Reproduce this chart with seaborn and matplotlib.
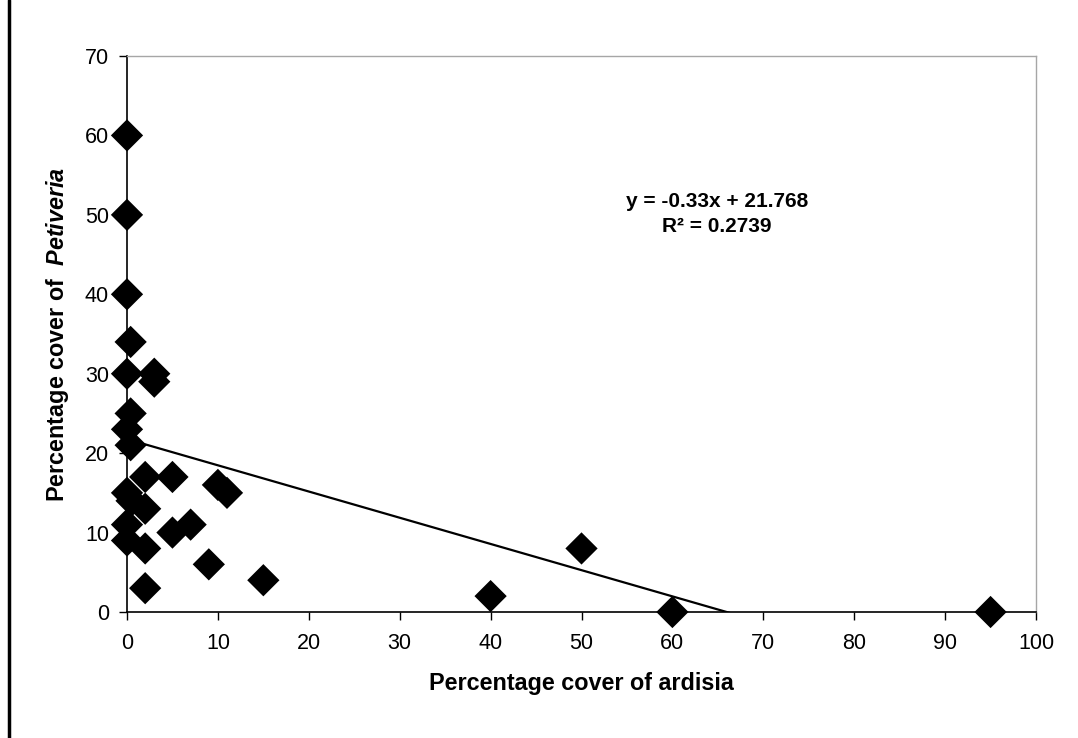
import matplotlib
matplotlib.use('Agg')
import matplotlib.pyplot as plt
import matplotlib.lines as mlines
import numpy as np
import pandas as pd
import seaborn as sns

# cover values
ardisia = [0, 0, 0, 0.4, 0, 3, 3, 0.4, 0, 0.4, 2, 5, 10, 11, 0, 0.5, 2,
           0, 0, 2, 5, 7, 9, 15, 2, 40, 50, 60, 95]
petiveria = [60, 50, 40, 34, 30, 30, 29, 25, 23, 21, 17, 17, 16, 15, 15, 14, 13,
             11, 9, 8, 10, 11, 6, 4, 3, 2, 8, 0, 0]

slope = -0.33
intercept = 21.768
r2 = 0.2739

df = pd.DataFrame({'ardisia': ardisia, 'petiveria': petiveria})

sns.set_style('white')
plt.rcParams['font.family'] = ['Liberation Sans', 'DejaVu Sans']
plt.rcParams['text.color'] = 'black'
plt.rcParams['axes.labelcolor'] = 'black'
plt.rcParams['mathtext.fontset'] = 'custom'
plt.rcParams['mathtext.rm'] = 'Liberation Sans'
plt.rcParams['mathtext.it'] = 'Liberation Sans:italic'
plt.rcParams['mathtext.bf'] = 'Liberation Sans:bold'
plt.rcParams['mathtext.bfit'] = 'Liberation Sans:bold:italic'

fig = plt.figure(figsize=(10.78, 7.38), dpi=100)
ax = fig.add_axes([127 / 1078, 1 - 612 / 738, 909 / 1078, 556 / 738])

# trendline across the data range, clipped by the axis floor
trend_x = np.array([min(ardisia), max(ardisia)])
trend = pd.DataFrame({'x': trend_x, 'y': slope * trend_x + intercept})
sns.lineplot(data=trend, x='x', y='y', color='black', linewidth=1.6, ax=ax, zorder=2)

sns.scatterplot(data=df, x='ardisia', y='petiveria', marker='D', s=270,
                color='black', edgecolor='none', ax=ax, zorder=3, clip_on=False)

ax.set_xlim(0, 100)
ax.set_ylim(0, 70)
ax.set_xticks(range(0, 101, 10))
ax.set_yticks(range(0, 71, 10))
ax.tick_params(axis='both', labelsize=15.5, direction='out', length=6, width=1,
               colors='black', bottom=True, left=True)
ax.tick_params(axis='y', pad=7)
ax.tick_params(axis='x', pad=9)
for side in ['left', 'bottom']:
    ax.spines[side].set_color('black')
    ax.spines[side].set_linewidth(1.2)
for side in ['top', 'right']:
    ax.spines[side].set_color('#a6a6a6')
    ax.spines[side].set_linewidth(1)

ax.set_xlabel('Percentage cover of ardisia', fontsize=16.8, fontweight='bold', labelpad=13)
ax.set_ylabel(r'Percentage cover of  $\mathbfit{Petiveria}$', fontsize=16.8,
              fontweight='bold', labelpad=10)

ax.text(0.649, 0.716, f'y = {slope}x + {intercept}\nR\u00b2 = {r2}', transform=ax.transAxes,
        ha='center', va='center', fontsize=15, fontweight='bold', linespacing=1.35)

# chart border line on the left
fig.add_artist(mlines.Line2D([9 / 1078, 9 / 1078], [0, 1], color='black', linewidth=2.5,
                             transform=fig.transFigure))

fig.savefig('out.png', dpi=100)
